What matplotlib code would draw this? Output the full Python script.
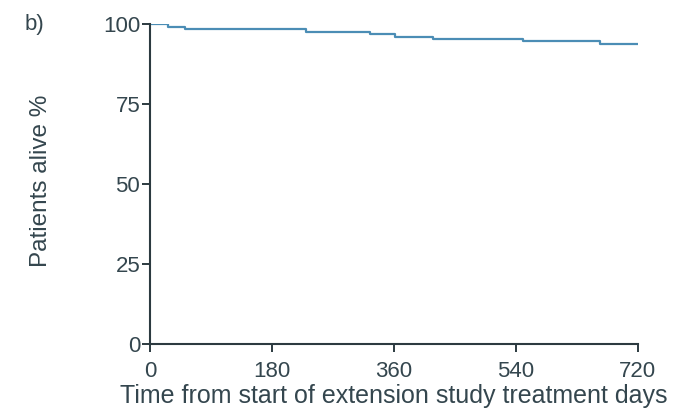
import matplotlib
matplotlib.use('Agg')
import matplotlib.pyplot as plt

# Kaplan-Meier style survival steps
days = [0, 26, 52, 230, 324, 361, 417, 550, 664, 720]
alive = [100, 99.2, 98.6, 97.5, 96.9, 95.9, 95.3, 94.7, 93.8, 93.8]

xticks = [0, 180, 360, 540, 720]
yticks = [0, 25, 50, 75, 100]

ink = '#2c3a40'
text_col = '#34464e'
line_col = '#4b8db5'

plt.rcParams['font.family'] = ['Liberation Sans', 'DejaVu Sans']

fig = plt.figure(figsize=(6.77, 4.16), dpi=100)
ax = fig.add_axes([0.2216, 0.173, 0.7206, 0.769])

ax.step(days, alive, where='post', color=line_col, lw=1.6)

ax.set_xlim(0, 720)
ax.set_ylim(0, 100)
ax.set_xticks(xticks)
ax.set_yticks(yticks)

for s in ['top', 'right']:
    ax.spines[s].set_visible(False)
for s in ['left', 'bottom']:
    ax.spines[s].set_color(ink)
    ax.spines[s].set_linewidth(1.5)

ax.tick_params(direction='out', length=6, width=1.4, color=ink,
               labelcolor=text_col, labelsize=16)
ax.tick_params(axis='x', pad=6)
ax.tick_params(axis='y', pad=1)

ax.set_xlabel('Time from start of extension study treatment days',
              fontsize=18, color=text_col, labelpad=2)
ax.set_ylabel('Patients alive %', fontsize=17.5, color=text_col)
ax.yaxis.set_label_coords(-0.2, 0.51)

fig.text(0.037, 0.94, 'b)', fontsize=16, color=text_col, va='center')

plt.savefig('out.png', dpi=100)
